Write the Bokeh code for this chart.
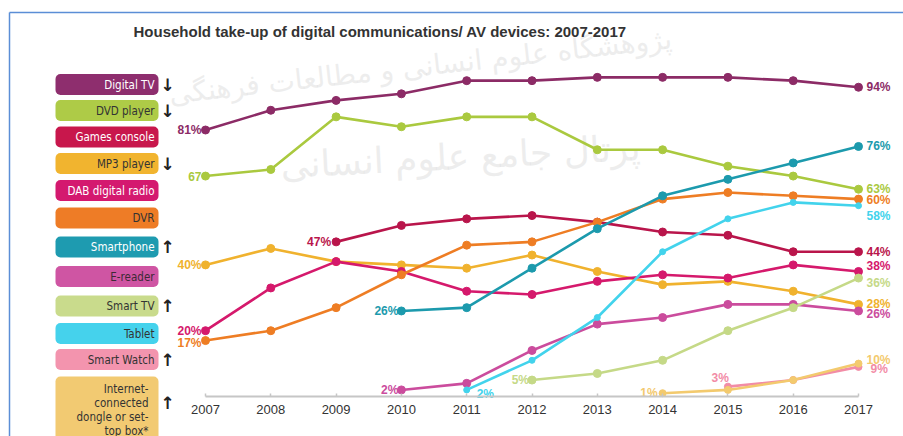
import math
from bokeh.plotting import figure
from bokeh.models import Range1d, LinearAxis, FixedTicker
from bokeh.core.properties import value
from bokeh.embed import file_html
from bokeh.resources import INLINE

# ---------------- data ----------------
years = [2007, 2008, 2009, 2010, 2011, 2012, 2013, 2014, 2015, 2016, 2017]
N = None
digital_tv = [81, 87, 90, 92, 96, 96, 97, 97, 97, 96, 94]
dvd_player = [67, 69, 85, 82, 85, 85, 75, 75, 70, 67, 63]
games_console = [N, N, 47, 52, 54, 55, 53, 50, 49, 44, 44]
mp3_player = [40, 45, 41, 40, 39, 43, 38, 34, 35, 32, 28]
dab_radio = [20, 33, 41, 38, 32, 31, 35, 37, 36, 40, 38]
dvr = [17, 20, 27, 37, 46, 47, 53, 60, 62, 61, 60]
smartphone = [N, N, N, 26, 27, 39, 51, 61, 66, 71, 76]
e_reader = [N, N, N, 2, 4, 14, 22, 24, 28, 28, 26]
smart_tv = [N, N, N, N, N, 5, 7, 11, 20, 27, 36]
tablet = [N, N, N, N, 2, 11, 24, 44, 54, 59, 58]
smart_watch = [N, N, N, N, N, N, N, N, 3, 5, 9]
dongle = [N, N, N, N, N, N, N, 1, 2, 5, 10]

series_names = ["Digital TV", "DVD player", "Games console", "MP3 player",
                "DAB digital radio", "DVR", "Smartphone", "E-reader",
                "Smart TV", "Tablet", "Smart Watch",
                "Internet-\nconnected\ndongle or set-\ntop box*"]
series_values = [digital_tv, dvd_player, games_console, mp3_player, dab_radio,
                 dvr, smartphone, e_reader, smart_tv, tablet, smart_watch, dongle]
start_labels = ["81%", "67", "47%", "40%", "20%", "17%", "26%", "2%", "5%", "2%", "3%", "1%"]
end_labels = ["94%", "63%", "44%", "28%", "38%", "60%", "76%", "26%", "36%", "58%", "9%", "10%"]
trend_arrows = ["↓", "↓", "", "↓", "", "", "↑", "", "↑", "", "↑", "↑"]
title_text = "Household take-up of digital communications/ AV devices: 2007-2017"

# ---------------- styles ----------------
line_colors = ["#8C2B66", "#AAC93F", "#B9154B", "#F0B22E", "#D5196C", "#EE7D24",
               "#1C9AAD", "#CB4C9D", "#C5D987", "#42D3EC", "#F28CA6", "#F3CA6E"]
box_colors = ["#8E2E6E", "#AECB47", "#C8174C", "#F1B42F", "#D4196F", "#EE7C26",
              "#1E9BB0", "#CF55A3", "#C9DB8C", "#45D2EC", "#F394AE", "#F2CA72"]
box_text_colors = ["white", "#333333", "white", "#333333", "white", "#333333",
                   "white", "#3d2a36", "#333333", "#333333", "#333333", "#333333"]
marker_sizes = [8, 8, 8, 8, 8, 8, 8, 8, 8, 6, 7, 7]
start_off = [(-4, 0, "right"), (-4, 0, "right"), (-5, 0, "right"), (-4, 0, "right"),
             (-4, 0, "right"), (-4, 2, "right"), (-3, 0, "right"), (-3, 0, "right"),
             (-3, 0, "right"), (10, 4, "left"), (1, -9, "right"), (-5, 0, "right")]
end_off = [(8, 0), (8, 0), (8, 0), (8, 0), (8, -5), (8, 1), (8, 0), (8, 3),
           (8, 5), (8, 10), (12, 2), (8, -4)]
box_centers_px = [84, 110, 136.5, 163, 190, 217.5, 246.5, 276, 305.5, 333, 359, 406]

W, H = 903, 436
OFF = 0                 # page offset of the figure
XS, X0P = 65.3, 205.0   # px per year, pixel of 2007 (page coords)
YS, Y0P = 3.29, 396.0   # px per percent, pixel of 0 %


def px2x(px):
    return 2007 + (px - X0P) / XS


def py2y(py):
    return (Y0P - py) / YS


p = figure(width=W, height=H, output_backend="svg", toolbar_location=None,
           x_range=Range1d(px2x(OFF), px2x(OFF + W)),
           y_range=Range1d(py2y(OFF + H), py2y(OFF)),
           x_axis_type=None, y_axis_type=None, min_border=0)
p.outline_line_color = None
p.background_fill_color = "white"
p.border_fill_color = "white"

# watermark
p.text(x=[px2x(420)], y=[py2y(66)], text=["پژوهشگاه علوم انسانی و مطالعات فرهنگی"],
       angle=0.11, text_align="center", text_baseline="middle",
       text_font=value("DejaVu Sans"), text_font_size="28px",
       text_color="#dedede", text_alpha=0.55)
p.text(x=[px2x(460)], y=[py2y(156)], text=["پرتال جامع علوم انسانی"],
       angle=0.05, text_align="center", text_baseline="middle",
       text_font=value("DejaVu Sans"), text_font_size="36px",
       text_color="#dedede", text_alpha=0.55)

# frame border lines (blue)
p.segment(x0=[px2x(9), px2x(9)], y0=[py2y(12), py2y(12)],
          x1=[px2x(903), px2x(9)], y1=[py2y(12), py2y(440)],
          line_color="#5B8ED6", line_width=1.5)

# x axis at 0
ax = LinearAxis(fixed_location=0, ticker=FixedTicker(ticks=years), bounds=(2007, 2017))
ax.axis_line_color = "#c6c6c6"
ax.axis_line_width = 2
ax.major_tick_in = 3
ax.major_tick_out = 0
ax.major_tick_line_color = "#c6c6c6"
ax.major_tick_line_width = 1.5
ax.minor_tick_line_color = None
ax.major_label_text_font = "Liberation Sans"
ax.major_label_text_font_size = "13px"
ax.major_label_text_color = "#333333"
ax.major_label_standoff = 8
p.add_layout(ax, "below")

# lines
for vals, col, ms in zip(series_values, line_colors, marker_sizes):
    xs = [yr for yr, v in zip(years, vals) if v is not None]
    ys = [v for v in vals if v is not None]
    p.line(xs, ys, line_color=col, line_width=2.6)
    p.scatter(xs, ys, size=ms, fill_color=col, line_color=col)

# value labels
for vals, col, sl, el, so, eo in zip(series_values, line_colors, start_labels,
                                     end_labels, start_off, end_off):
    xs = [yr for yr, v in zip(years, vals) if v is not None]
    ys = [v for v in vals if v is not None]
    p.text(x=[xs[0]], y=[ys[0]], text=[sl], x_offset=so[0], y_offset=so[1],
           text_align=so[2], text_baseline="middle", text_color=col,
           text_font=value("Liberation Sans"), text_font_style="bold",
           text_font_size="12px")
    p.text(x=[xs[-1]], y=[ys[-1]], text=[el], x_offset=eo[0], y_offset=eo[1],
           text_align="left", text_baseline="middle", text_color=col,
           text_font=value("Liberation Sans"), text_font_style="bold",
           text_font_size="12px")

# legend boxes
narrow = value("Liberation Sans Narrow, DejaVu Sans Condensed, sans-serif")
for i, (name, bc, tc, arr, cy) in enumerate(zip(series_names, box_colors, box_text_colors,
                                                 trend_arrows, box_centers_px)):
    last = i == len(series_names) - 1
    top, bot = (376, 446) if last else (cy - 10.5, cy + 10.5)
    p.quad(left=[px2x(55)], right=[px2x(158)], top=[py2y(top)], bottom=[py2y(bot)],
           fill_color=bc, line_color=None, border_radius=5)
    if not last:
        p.text(x=[px2x(154)], y=[py2y(cy)], text=[name], text_align="right",
               text_baseline="middle", text_color=tc, text_font=narrow,
               text_font_size="11.5px")
    else:
        p.text(x=[px2x(148)], y=[py2y(381)], text=[name], text_align="right",
               text_baseline="top", text_color=tc, text_font=narrow,
               text_font_size="11.5px", text_line_height=1.0)
    if arr:
        p.text(x=[px2x(167)], y=[py2y(402 if last else cy)], text=[arr],
               text_align="center", text_baseline="middle", text_color="#222222",
               text_font=value("DejaVu Sans"), text_font_style="bold",
               text_font_size="17px")

# title
p.text(x=[px2x(133)], y=[py2y(31)], text=[title_text], text_align="left",
       text_baseline="middle", text_color="#333333", text_font=value("Liberation Sans"),
       text_font_style="bold", text_font_size="15px")

open("out.html", "w").write(file_html(p, INLINE))
